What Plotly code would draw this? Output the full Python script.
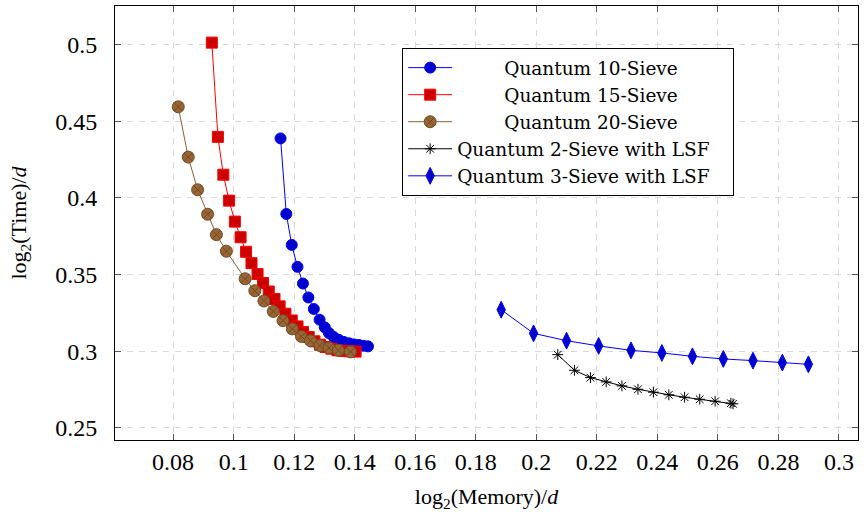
import plotly.graph_objects as go

# Quantum 10-Sieve
q10_x = [0.1155, 0.1174, 0.1192, 0.1211, 0.1229, 0.1247, 0.1265, 0.1284, 0.1301,
         0.1315, 0.1331, 0.1348, 0.1364, 0.1381, 0.1397, 0.1414, 0.1429, 0.1444]
q10_y = [0.4388, 0.3895, 0.3693, 0.3550, 0.3441, 0.3350, 0.3275, 0.3205, 0.3155,
         0.3118, 0.3092, 0.3073, 0.3060, 0.3051, 0.3044, 0.3040, 0.3035, 0.3031]

# Quantum 15-Sieve
q15_x = [0.0928, 0.0948, 0.0966, 0.0985, 0.1004, 0.1023, 0.1041, 0.1059, 0.1079,
         0.1097, 0.1116, 0.1135, 0.1152, 0.1171, 0.1192, 0.1211, 0.1229, 0.1248,
         0.1267, 0.1285, 0.1304, 0.1323, 0.1343, 0.1364, 0.1383, 0.1403]
q15_y = [0.5013, 0.4398, 0.4151, 0.3982, 0.3845, 0.3743, 0.3648, 0.3574, 0.3503,
         0.3444, 0.3389, 0.3340, 0.3292, 0.3244, 0.3200, 0.3161, 0.3125, 0.3092,
         0.3064, 0.3042, 0.3027, 0.3016, 0.3005, 0.3001, 0.2999, 0.2997]

# Quantum 20-Sieve
q20_x = [0.0817, 0.0850, 0.0881, 0.0914, 0.0943, 0.0976, 0.1038, 0.1070, 0.1100,
         0.1131, 0.1163, 0.1194, 0.1224, 0.1254, 0.1285, 0.1315, 0.1346, 0.1386]
q20_y = [0.4594, 0.4266, 0.4053, 0.3893, 0.3760, 0.3652, 0.3472, 0.3394, 0.3327,
         0.3259, 0.3199, 0.3145, 0.3096, 0.3068, 0.3036, 0.3021, 0.3005, 0.2995]

# Quantum 2-Sieve with LSF
lsf2_x = [0.2071, 0.2126, 0.2179, 0.2231, 0.2283, 0.2336, 0.2387, 0.2438, 0.2490,
          0.2540, 0.2591, 0.2643, 0.2650]
lsf2_y = [0.2977, 0.2875, 0.2827, 0.2799, 0.2773, 0.2751, 0.2732, 0.2715, 0.2699,
          0.2686, 0.2673, 0.2660, 0.2656]

# Quantum 3-Sieve with LSF
lsf3_x = [0.1884, 0.1991, 0.2100, 0.2206, 0.2313, 0.2415, 0.2516, 0.2618, 0.2716,
          0.2813, 0.2899]
lsf3_y = [0.3270, 0.3116, 0.3068, 0.3034, 0.3005, 0.2988, 0.2966, 0.2949, 0.2938,
          0.2925, 0.2914]

x_ticks = [0.08, 0.1, 0.12, 0.14, 0.16, 0.18, 0.2, 0.22, 0.24, 0.26, 0.28, 0.3]
y_ticks = [0.25, 0.3, 0.35, 0.4, 0.45, 0.5]

pad = "\u00a0" * 8
tail = "\u00a0" * 3
names = [pad + "Quantum 10-Sieve", pad + "Quantum 15-Sieve", pad + "Quantum 20-Sieve",
         "Quantum 2-Sieve with LSF" + tail, "Quantum 3-Sieve with LSF" + tail]

fig = go.Figure()
fig.add_trace(go.Scatter(x=q10_x, y=q10_y, mode="lines+markers", name=names[0],
                         line=dict(color="#0000ff", width=1),
                         marker=dict(symbol="circle", size=11, color="#0000cc",
                                     line=dict(color="#0000ff", width=1))))
fig.add_trace(go.Scatter(x=q15_x, y=q15_y, mode="lines+markers", name=names[1],
                         line=dict(color="#ff0000", width=1),
                         marker=dict(symbol="square", size=11, color="#cc0000",
                                     line=dict(color="#ff0000", width=1))))
fig.add_trace(go.Scatter(x=q20_x, y=q20_y, mode="lines+markers", name=names[2],
                         line=dict(color="#8c5f33", width=1),
                         marker=dict(symbol="circle-x", size=12, color="#996633",
                                     line=dict(color="#6e4a28", width=1))))
fig.add_trace(go.Scatter(x=lsf2_x, y=lsf2_y, mode="lines+markers", name=names[3],
                         line=dict(color="#000000", width=1),
                         marker=dict(symbol="asterisk-open", size=9,
                                     line=dict(color="#000000", width=1))))
fig.add_trace(go.Scatter(x=lsf3_x, y=lsf3_y, mode="lines+markers", name=names[4],
                         line=dict(color="#0000ff", width=1),
                         marker=dict(symbol="diamond-tall", size=12, color="#0000cc",
                                     line=dict(color="#0000ff", width=1))))

font_family = "Liberation Serif, Times New Roman, serif"
legend_family = "DejaVu Serif, serif"
grid = dict(showgrid=True, gridcolor="#d9d9d9", gridwidth=1.2, griddash="6px,6px",
            zeroline=False, showline=True, linecolor="black", linewidth=1,
            mirror="ticks", ticks="inside", ticklen=6, tickcolor="#555555",
            automargin=False,
            tickfont=dict(family=font_family, size=24, color="black"))

fig.update_layout(
    width=867, height=512,
    margin=dict(l=115, r=9, t=6, b=72),
    paper_bgcolor="white", plot_bgcolor="white",
    font=dict(family=font_family, color="black"),
    showlegend=True,
    legend=dict(x=0.3865, y=0.903, xanchor="left", yanchor="top",
                bgcolor="white", bordercolor="black", borderwidth=1,
                font=dict(family=legend_family, size=18.5, color="black"),
                itemwidth=44, tracegroupgap=0),
)
fig.update_xaxes(range=[0.0608, 0.3063], tickvals=x_ticks,
                 title=dict(text="log<sub>2</sub>(Memory)/<i>d</i>",
                            font=dict(family=font_family, size=22), standoff=17),
                 **grid)
fig.update_yaxes(range=[0.2420, 0.5252], tickvals=y_ticks,
                 title=dict(text="log<sub>2</sub>(Time)/<i>d</i>",
                            font=dict(family=font_family, size=22), standoff=22),
                 ticklabelstandoff=12,
                 **grid)

fig.write_html("out.html", config={"displayModeBar": False},
               post_script="document.body.style.margin='0';document.body.style.padding='0';")
